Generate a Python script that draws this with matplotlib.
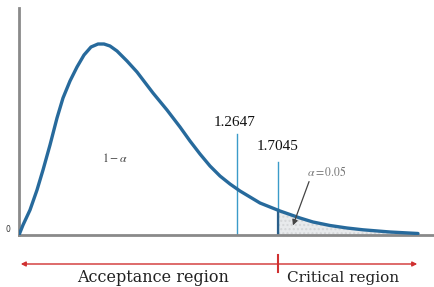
import numpy as np
import matplotlib
matplotlib.use("Agg")
import matplotlib.pyplot as plt

plt.rcParams["mathtext.fontset"] = "stix"

# density curve (arbitrary units)
x_curve = [0, 0.1, 0.275, 0.45, 0.6, 0.775, 0.95, 1.1, 1.275, 1.45, 1.625, 1.8,
           1.975, 2.125, 2.275, 2.45, 2.7, 2.95, 3.35, 3.7, 4.025, 4.275, 4.525,
           4.775, 5.025, 5.275, 5.525, 5.775, 6.025, 6.275, 6.525, 7.025, 7.35,
           7.775, 8.2, 8.6, 9.275, 9.975]
y_curve = [0, 0.010, 0.025, 0.045, 0.065, 0.090, 0.117, 0.137, 0.154, 0.168, 0.180, 0.188,
           0.191, 0.191, 0.189, 0.184, 0.174, 0.163, 0.142, 0.125, 0.108, 0.094, 0.081,
           0.069, 0.059, 0.051, 0.044, 0.038, 0.032, 0.028, 0.024, 0.017, 0.013,
           0.0095, 0.007, 0.0052, 0.003, 0.0015]

# marker lines: position, top height, label
crit_x = [5.44, 6.475]
crit_top = [0.101, 0.073]
crit_labels = ["1.2647", "1.7045"]
alpha_label = r"$\alpha = 0.05$"

fig = plt.figure(figsize=(4.35, 2.87), dpi=100)
ax = fig.add_axes([19/435, 52/287, 416/435, 235/287])
ax.set_xlim(0, 10.4)
ax.set_ylim(0, 0.235)

x = np.array(x_curve)
y = np.array(y_curve)

# shaded critical region
y_at = np.interp(crit_x[1], x, y)
xs = np.concatenate([[crit_x[1]], x[x > crit_x[1]]])
ys = np.concatenate([[y_at], y[x > crit_x[1]]])
ax.fill_between(xs, 0, ys, color="#e8eaec", hatch="....", edgecolor="#d4d6d8", linewidth=0)

ax.plot(x, y, color="#276a9c", lw=2.4, solid_capstyle="round", solid_joinstyle="round", zorder=3)

# critical lines
for cx, top in zip(crit_x, crit_top):
    ax.plot([cx, cx], [0, top], color="#3b9bc9", lw=1.0, zorder=2)
ax.plot([crit_x[1], crit_x[1]], [0, y_at], color="#2a5f8a", lw=1.6, zorder=2)
ax.text(crit_x[0] - 0.05, 0.112, crit_labels[0], family="Liberation Serif", fontsize=11,
        ha="center", va="center", color="#111111")
ax.text(crit_x[1], 0.088, crit_labels[1], family="Liberation Serif", fontsize=11,
        ha="center", va="center", color="#111111")

ax.text(2.4, 0.077, r"$1-\alpha$", fontsize=8.5, ha="center", va="center", color="#444444")
ax.text(7.7, 0.063, alpha_label, fontsize=8.5, ha="center", va="center", color="#777777")
ax.annotate("", xy=(6.825, 0.007), xytext=(7.275, 0.056),
            arrowprops=dict(arrowstyle="-|>", color="#444444", lw=0.9, mutation_scale=8))

ax.text(-0.275, 0.006, "0", fontsize=5.5, ha="center", va="center", color="#333333")

# axes look
for s in ["top", "right"]:
    ax.spines[s].set_visible(False)
ax.spines["left"].set_color("#8a8a8a")
ax.spines["left"].set_linewidth(2)
ax.spines["left"].set_bounds(0, 0.227)
ax.spines["bottom"].set_color("#8a8a8a")
ax.spines["bottom"].set_linewidth(2)
ax.set_xticks([])
ax.set_yticks([])

# regions below the axis
ax.annotate("", xy=(-0.025, -0.029), xytext=(10.025, -0.029), annotation_clip=False,
            arrowprops=dict(arrowstyle="<|-|>", color="#d03030", lw=1.0, mutation_scale=7))
ax.plot([crit_x[1], crit_x[1]], [-0.020, -0.037], color="#d03030", lw=1.5, clip_on=False)
ax.text(3.35, -0.043, "Acceptance region", family="DejaVu Serif", fontsize=11.5,
        ha="center", va="center", color="#222222")
ax.text(8.1, -0.043, "Critical region", family="DejaVu Serif", fontsize=11,
        ha="center", va="center", color="#222222")

fig.savefig("out.png", dpi=100)
